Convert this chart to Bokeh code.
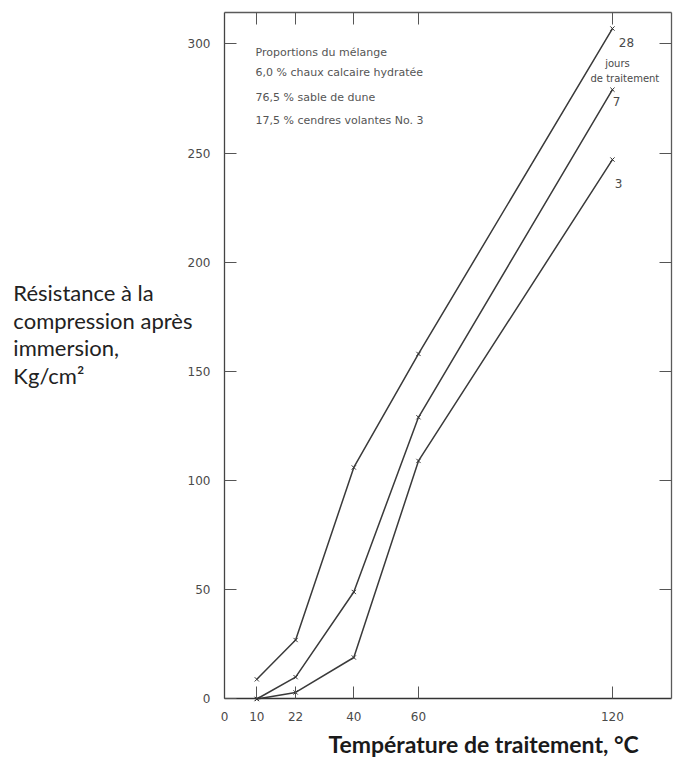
from bokeh.plotting import figure
from bokeh.models import LinearAxis, FixedTicker, Range1d, Label
from bokeh.embed import file_html
from bokeh.resources import INLINE

# ---- data ----
temperature = [10, 22, 40, 60, 120]          # °C
days_28 = [9, 27, 106, 158, 307]             # Kg/cm2
days_7 = [0, 10, 49, 129, 279]
days_3 = [0, 3, 19, 109, 247]
series_names = ["28", "7", "3"]
x_ticks = [0, 10, 22, 40, 60, 120]
y_ticks = [0, 50, 100, 150, 200, 250, 300]
y_title_lines = ["Résistance à la", "compression après", "immersion,", "Kg/cm²"]
x_title = "Température de  traitement, °C"
mix_lines = ["Proportions du mélange",
             "6,0 % chaux calcaire hydratée",
             "76,5 % sable de dune",
             "17,5 % cendres volantes No. 3"]

X_MAX = 138.3   # right edge of the drawing box
Y_MAX = 314.2   # top edge of the drawing box

INK = "#3a3a3a"
GREY = "#4a4a4a"

# the frame spans the whole canvas; the box is drawn by four fixed axes
p = figure(width=679, height=762, output_backend="svg", toolbar_location=None,
           x_range=Range1d(-69.28, 140.74), y_range=Range1d(-29.08, 319.83),
           min_border=0, x_axis_location=None, y_axis_location=None)
p.background_fill_color = "white"
p.border_fill_color = "white"
p.outline_line_color = None
p.xgrid.visible = False
p.ygrid.visible = False

def make_axis(ticks, loc, bounds, standoff=12, line_color="#444444"):
    ax = LinearAxis(ticker=FixedTicker(ticks=ticks), fixed_location=loc, bounds=bounds)
    ax.major_tick_in = 12
    ax.major_tick_out = 0
    ax.major_tick_line_color = "#555555"
    ax.major_tick_line_width = 1
    ax.minor_tick_line_color = None
    ax.axis_line_color = line_color
    ax.axis_line_width = 1.3
    ax.major_label_text_font = "DejaVu Sans"
    ax.major_label_text_font_size = "12px"
    ax.major_label_text_color = GREY
    ax.major_label_standoff = standoff
    return ax

def make_frame_axis(ticks, loc, bounds, line_color="#5a5a5a"):
    # unlabeled side of the box: ticks drawn as (unlabeled) minor ticks
    ax = LinearAxis(ticker=FixedTicker(ticks=[], minor_ticks=ticks),
                    fixed_location=loc, bounds=bounds)
    ax.minor_tick_in = 12
    ax.minor_tick_out = 0
    ax.minor_tick_line_color = "#555555"
    ax.minor_tick_line_width = 1
    ax.major_tick_line_color = None
    ax.axis_line_color = line_color
    ax.axis_line_width = 1.3
    return ax

p.add_layout(make_axis(x_ticks, 0, (0, X_MAX), standoff=13, line_color="#333333"), "below")
p.add_layout(make_axis(y_ticks, 0, (0, Y_MAX), standoff=14), "left")
p.add_layout(make_frame_axis(x_ticks[1:], Y_MAX, (0, X_MAX)), "above")
p.add_layout(make_frame_axis(y_ticks[1:], X_MAX, (0, Y_MAX)), "right")

# ---- curves ----
label_offsets = {"28": (14, -14), "7": (4, -12), "3": (6, -24)}
for vals, name in zip([days_28, days_7, days_3], series_names):
    p.line(temperature, vals, line_color=INK, line_width=1.5)
    p.scatter(temperature, vals, marker="x", size=6, line_color="#333333", line_width=1)
    dx, dy = label_offsets[name]
    p.add_layout(Label(x=temperature[-1], y=vals[-1], x_offset=dx, y_offset=dy,
                       text=name, text_font="DejaVu Sans", text_font_size="12px",
                       text_color=GREY, text_align="center", text_baseline="middle"))

p.add_layout(Label(x=temperature[-1], y=days_28[-1], x_offset=5, y_offset=-35,
                   text="jours", text_font="DejaVu Sans", text_font_size="10px",
                   text_color=GREY, text_align="center", text_baseline="middle"))
p.add_layout(Label(x=temperature[-1], y=days_28[-1], x_offset=-22, y_offset=-50,
                   text="de traitement", text_font="DejaVu Sans", text_font_size="10px",
                   text_color=GREY, text_align="left", text_baseline="middle"))

# ---- mixture annotation ----
mix_y = [296.0, 286.9, 275.5, 264.9]
for txt, yy in zip(mix_lines, mix_y):
    p.add_layout(Label(x=9.6, y=yy, text=txt, text_font="DejaVu Sans",
                       text_font_size="11px", text_color="#555555",
                       text_align="left", text_baseline="middle"))

# ---- axis titles ----
title_y = [186.1, 173.5, 160.9, 148.2]
for txt, yy in zip(y_title_lines, title_y):
    p.add_layout(Label(x=-65.3, y=yy, text=txt, text_font="Lato",
                       text_font_size="22px", text_color="#222222",
                       text_align="left", text_baseline="alphabetic"))

p.add_layout(Label(x=81.0, y=-20.6, text=x_title, text_font="Lato",
                   text_font_size="23px", text_font_style="bold", text_color="#1a1a1a",
                   text_align="center", text_baseline="alphabetic"))

open("out.html", "w").write(file_html(p, INLINE))
